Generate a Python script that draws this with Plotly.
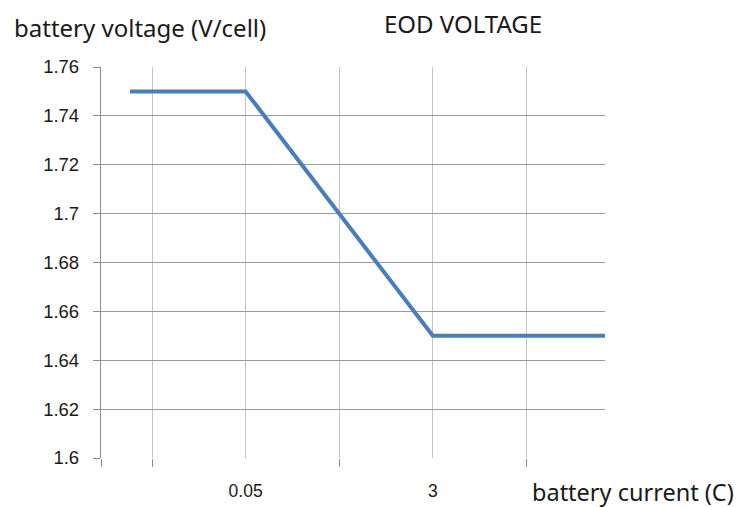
import plotly.graph_objects as go

# data
x_vals = [0.765, 2, 4, 5.84]
y_vals = [1.75, 1.75, 1.65, 1.65]
grid_x = [1, 2, 3, 4, 5]
x_tick_text = ["", "0.05", "", "3", ""]
minor_tick_x = [0.455, 1, 3, 5]
y_ticks = [1.6, 1.62, 1.64, 1.66, 1.68, 1.7, 1.72, 1.74, 1.76]

X_RANGE = [0.455, 5.84]

fig = go.Figure()
fig.add_trace(go.Scatter(x=x_vals, y=y_vals, mode="lines",
                         line=dict(color="#4a7ebb", width=4), showlegend=False))
# invisible trace for secondary x axis (tick marks)
fig.add_trace(go.Scatter(x=[X_RANGE[0]], y=[1.6], xaxis="x2", mode="markers",
                         marker=dict(opacity=0), showlegend=False, hoverinfo="skip"))

# page body has an 8px margin, so the figure is sized to fit inside it
fig.update_layout(
    width=740, height=499,
    margin=dict(l=93, r=143, t=59, b=49, autoexpand=False),
    paper_bgcolor="white", plot_bgcolor="white",
    font=dict(family="Liberation Sans, Arial", color="#1a1a1a"),
    xaxis=dict(range=X_RANGE, tickmode="array", tickvals=grid_x, ticktext=x_tick_text,
               showgrid=True, gridcolor="#c4c4c4", gridwidth=1.3, automargin=False,
               showline=False, zeroline=False, ticks="",
               tickfont=dict(size=17.5, color="#1a1a1a"), ticklabelstandoff=20),
    xaxis2=dict(range=X_RANGE, overlaying="x", side="bottom", tickmode="array",
                tickvals=minor_tick_x, showticklabels=False, ticks="outside",
                ticklen=8, tickcolor="#8c8c8c", tickwidth=1.3, showgrid=False,
                zeroline=False, showline=False, automargin=False),
    yaxis=dict(range=[1.6, 1.76], tickmode="array", tickvals=y_ticks,
               showgrid=True, gridcolor="#9a9a9a", gridwidth=1.3, automargin=False,
               showline=True, linecolor="#8c8c8c", linewidth=1.3,
               ticks="outside", ticklen=7, tickcolor="#8c8c8c", tickwidth=1.3,
               zeroline=False, tickfont=dict(size=18.5, color="#1a1a1a"),
               ticklabelstandoff=10),
)

fig.add_annotation(text="battery voltage (V/cell)", xref="paper", yref="paper",
                   x=-89/504, y=1 + 40/391, xanchor="left", yanchor="middle",
                   showarrow=False, font=dict(family="Noto Sans", size=24, color="#1a1a1a"))
fig.add_annotation(text="EOD VOLTAGE", xref="paper", yref="paper",
                   x=(463-101)/504, y=1 + 44/391, xanchor="center", yanchor="middle",
                   showarrow=False, font=dict(family="Noto Sans", size=24, color="#1a1a1a"))
fig.add_annotation(text="battery current (C)", xref="paper", yref="paper",
                   x=(530-101)/504, y=-34/391, xanchor="left", yanchor="middle",
                   showarrow=False, font=dict(family="Noto Sans", size=23.5, color="#1a1a1a"))

fig.write_html("out.html")
